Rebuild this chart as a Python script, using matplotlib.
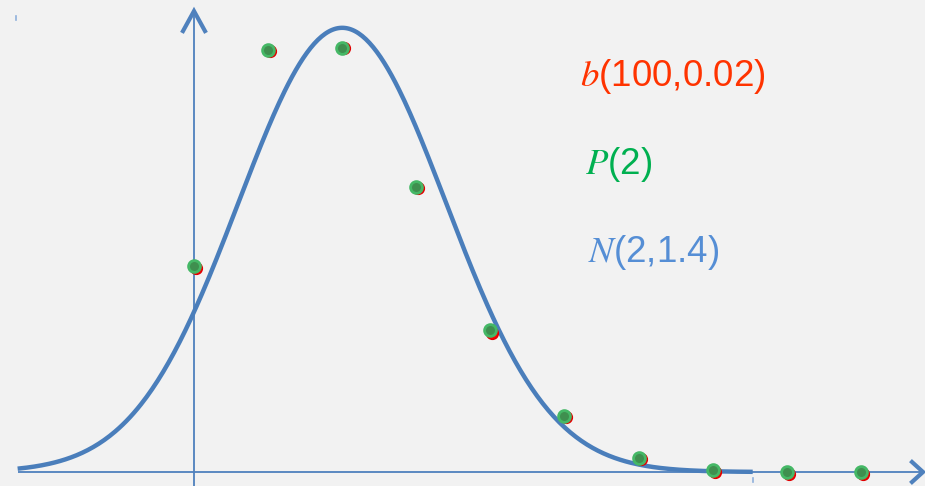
import matplotlib.pyplot as plt
import matplotlib.transforms as mtransforms
import numpy as np

plt.rcParams['font.family'] = ['Liberation Sans', 'DejaVu Sans']
plt.rcParams['mathtext.fontset'] = 'stix'

# k = 0..9 and the probabilities of the two discrete laws
k = np.arange(10)
binom_p = [0.132, 0.271, 0.273, 0.183, 0.090, 0.036, 0.009, 0.001, 0.000, 0.000]
poisson_p = [0.132, 0.271, 0.272, 0.183, 0.091, 0.036, 0.009, 0.001, 0.000, 0.000]

# normal approximation N(mu, sigma)
mu, sigma = 2.0, 1.4
x_min, x_max = -2.38, 7.54

labels = [r"$b$(100,0.02)", r"$P$(2)", r"$N$(2,1.4)"]
label_colors = ["#ff3300", "#00b050", "#558ed5"]

axis_color = "#4f81bd"
curve_color = "#4a7ebb"
bg = "#f2f2f2"

fig = plt.figure(figsize=(9.25, 4.86), dpi=100, facecolor=bg)
ax = fig.add_axes([0, 0, 1, 1], facecolor=bg)
ax.set_xlim(-2.618, 9.865)
ax.set_ylim(-0.00898, 0.3028)
ax.axis("off")

# px -> data helpers for the hand-drawn axes
sx = 74.1
sy = 1559.0

# x axis with an open chevron at the right end
ax.plot([-2.37, 9.8], [0, 0], color=axis_color, lw=1.3, solid_capstyle="butt")
tip_x = (923 - 194) / sx
ax.plot([tip_x - 11 / sx, tip_x, tip_x - 11 / sx], [10 / sy, 0, -10 / sy],
        color=axis_color, lw=3.0, solid_joinstyle="miter")

# y axis with an open chevron at the top
tip_y = (472 - 11) / sy
ax.plot([0, 0], [-0.01, tip_y - 4 / sy], color=axis_color, lw=1.3)
ax.plot([-11 / sx, 0, 11 / sx], [tip_y - 20 / sy, tip_y, tip_y - 20 / sy],
        color=axis_color, lw=3.0, solid_joinstyle="miter")

# two small stray ticks
ax.plot([(16 - 194) / sx] * 2, [(472 - 16) / sy, (472 - 20) / sy], color="#8fb0dc", lw=1.2)
ax.plot([(753 - 194) / sx] * 2, [(472 - 478) / sy, (472 - 482) / sy], color="#8fb0dc", lw=1.2)

# normal density
xs = np.linspace(x_min, x_max, 400)
pdf = np.exp(-0.5 * ((xs - mu) / sigma) ** 2) / (sigma * np.sqrt(2 * np.pi))
ax.plot(xs, pdf, color=curve_color, lw=3.2, solid_capstyle="butt")

# binomial points (slightly offset) under the Poisson points
shift = mtransforms.offset_copy(ax.transData, fig=fig, x=2.0, y=-1.5, units="dots")
ax.plot(k, binom_p, "o", ms=8.5, color="#ff0000", mec="#e00000", transform=shift, zorder=3)
ax.plot(k, poisson_p, "o", ms=8.5, mfc="#3f8f4f", mec="#45b866", mew=2.0, zorder=4)

# legend-like labels
for i, (txt, c) in enumerate(zip(labels, label_colors)):
    ax.text((580 - 194) / sx + (0.07 if i else 0) + (0.04 if i == 2 else 0),
            (472 - 86 - i * 88) / sy, txt, color=c, fontsize=26.5,
            ha="left", va="baseline")

fig.savefig("out.png", dpi=100, facecolor=bg)
